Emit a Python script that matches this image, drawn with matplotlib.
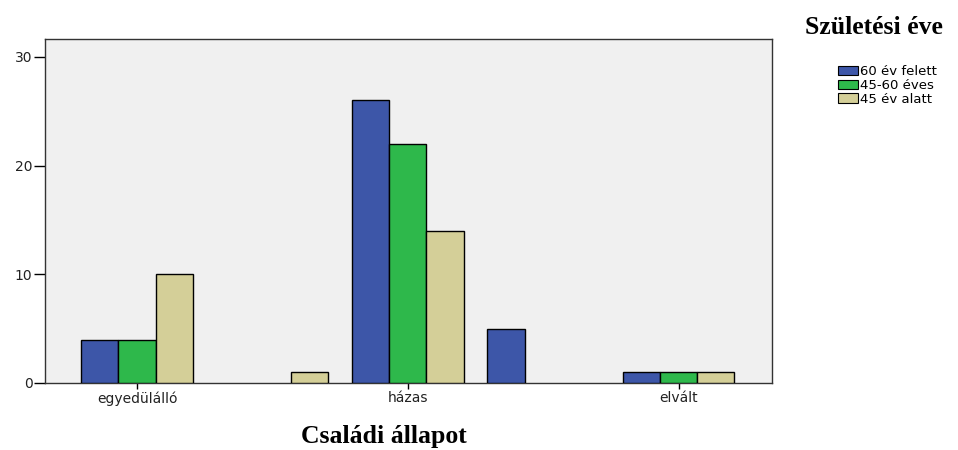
import numpy as np
import matplotlib.pyplot as plt
from matplotlib.patches import Patch

# Családi állapot categories (two of them carry no label in the original)
categories = ['egyedülálló', '', 'házas', '', 'elvált']
series_names = ['60 év felett', '45-60 éves', '45 év alatt']
over60 = [4, 0, 26, 5, 1]
age45_60 = [4, 0, 22, 0, 1]
under45 = [10, 1, 14, 0, 1]
yticks = [0, 10, 20, 30]

colors = ['#3d56a8', '#2eb84b', '#d4cf98']

fig = plt.figure(figsize=(9.58, 4.5), dpi=100)
ax = fig.add_axes([45 / 958, 67 / 450, 727 / 958, 344 / 450])
ax.set_facecolor('#f0f0f0')

x = np.arange(len(categories))
w = 0.275
for i, (vals, c) in enumerate(zip([over60, age45_60, under45], colors)):
    vals = np.array(vals)
    m = vals > 0
    ax.bar(x[m] + (i - 1) * w, vals[m], width=w, color=c,
           edgecolor='black', linewidth=1.0, zorder=3)

ax.set_xlim(-0.68, 4.69)
ax.set_ylim(0, 31.65)
ax.set_yticks(yticks)
ax.tick_params(axis='y', direction='out', length=8, width=1, labelsize=10,
               pad=1, labelcolor='#222222')
lab_idx = [i for i, c in enumerate(categories) if c]
ax.set_xticks(lab_idx)
ax.set_xticklabels([categories[i] for i in lab_idx])
ax.tick_params(axis='x', direction='out', length=4, width=1, labelsize=10,
               pad=2, labelcolor='#222222')
for s in ax.spines.values():
    s.set_color('#333333')
    s.set_linewidth(1)

fig.text(384 / 958, 1 - 437 / 450, 'Családi állapot', ha='center', va='center',
         fontsize=18.5, fontweight='bold', family='Liberation Serif')
fig.text(874 / 958, 1 - 27 / 450, 'Születési éve', ha='center', va='center',
         fontsize=18.5, fontweight='bold', family='Liberation Serif')

handles = [Patch(facecolor=c, edgecolor='black', linewidth=0.8) for c in colors]
fig.legend(handles, series_names, loc='upper left',
           bbox_to_anchor=(838 / 958, 1 - 65 / 450), frameon=False,
           fontsize=9.5, handlelength=1.5, handleheight=0.7,
           handletextpad=0.15, labelspacing=0.06, borderpad=0, borderaxespad=0)

fig.savefig('out.png', dpi=100)
